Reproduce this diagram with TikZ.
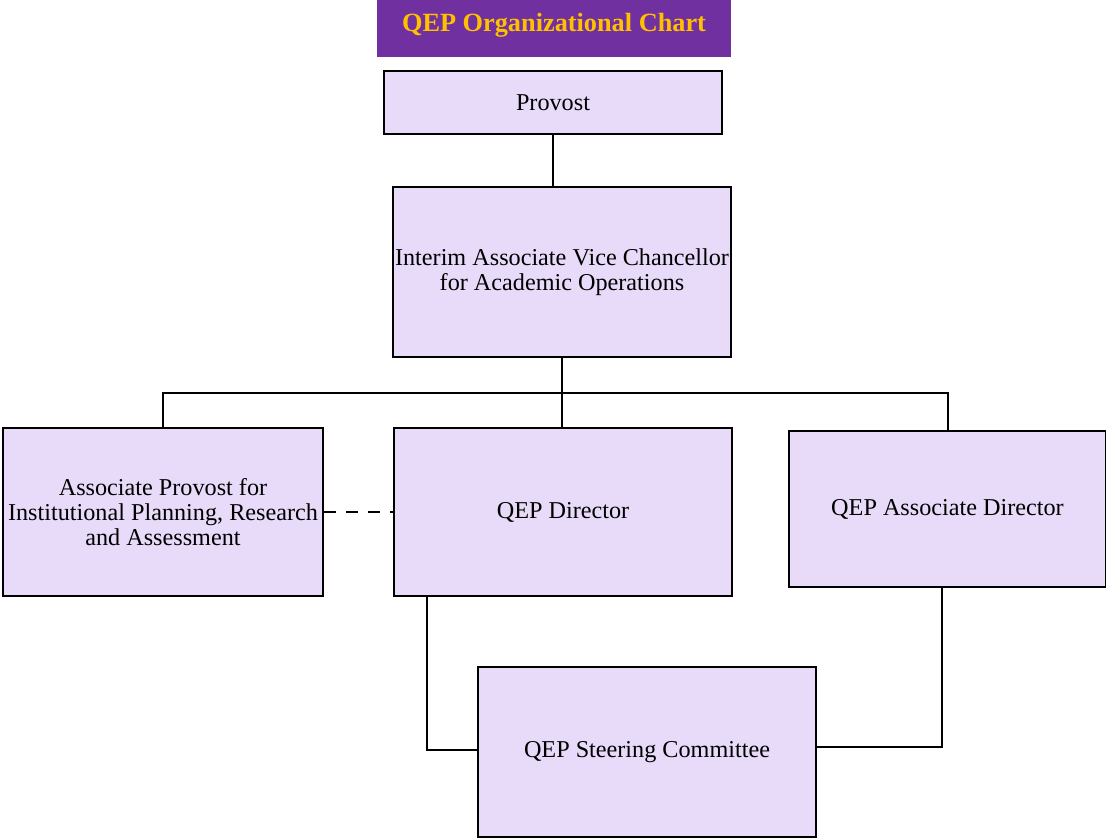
\documentclass[tikz,border=0pt]{standalone}
\usepackage{fontspec}
\setmainfont{Liberation Serif}
\definecolor{boxfill}{HTML}{E8DBF9}
\definecolor{titlefill}{HTML}{7030A0}
\definecolor{titletext}{HTML}{FFC000}
\begin{document}
\begin{tikzpicture}[x=1pt,y=-1pt,
  orgbox/.style={draw=black, line width=1.5pt, fill=boxfill, inner sep=0pt,
    align=center, font=\fontsize{24.2}{25}\selectfont},
  link/.style={draw=black, line width=1.3pt}]
\useasboundingbox (0,0) rectangle (1106,839);
% title banner
\node[fill=titlefill, minimum width=354pt, minimum height=57pt, inner sep=0pt,
  text height=18pt, text depth=13pt,
  text=titletext, font=\bfseries\fontsize{26.3}{28}\selectfont] (title) at (554,28.5) {QEP Organizational Chart};
% boxes
\node[orgbox, minimum width=338pt, minimum height=63pt] (provost) at (553,102.5) {Provost};
\node[orgbox, minimum width=338pt, minimum height=170pt] (iavc) at (562,272) {Interim Associate Vice Chancellor\\for Academic Operations};
\node[orgbox, minimum width=320pt, minimum height=168pt] (ap) at (163,512) {Associate Provost for\\Institutional Planning, Research\\and Assessment};
\node[orgbox, minimum width=338pt, minimum height=168pt] (dir) at (563,512) {QEP Director};
\node[orgbox, minimum width=317pt, minimum height=156pt] (adir) at (947.5,509) {QEP Associate Director};
\node[orgbox, minimum width=338pt, minimum height=170pt] (sc) at (647,752) {QEP Steering Committee};
% connectors
\coordinate (bus) at (562,393);
\draw[link] (provost.south) -- (provost.south |- iavc.north);
\draw[link] (iavc.south) -- (bus);
\draw[link] (bus) -| (ap.north);
\draw[link] (bus) -- (dir.north -| bus);
\draw[link] (bus) -| (948,431) -- (adir.north -| 948,0);
\draw[link, dash pattern=on 12pt off 10pt] (ap.east) -- (dir.west);
\draw[link] (dir.south -| 427,0) |- (sc.west |- 0,750);
\draw[link] (adir.south -| 942,0) |- (sc.east |- 0,747);
\end{tikzpicture}
\end{document}
